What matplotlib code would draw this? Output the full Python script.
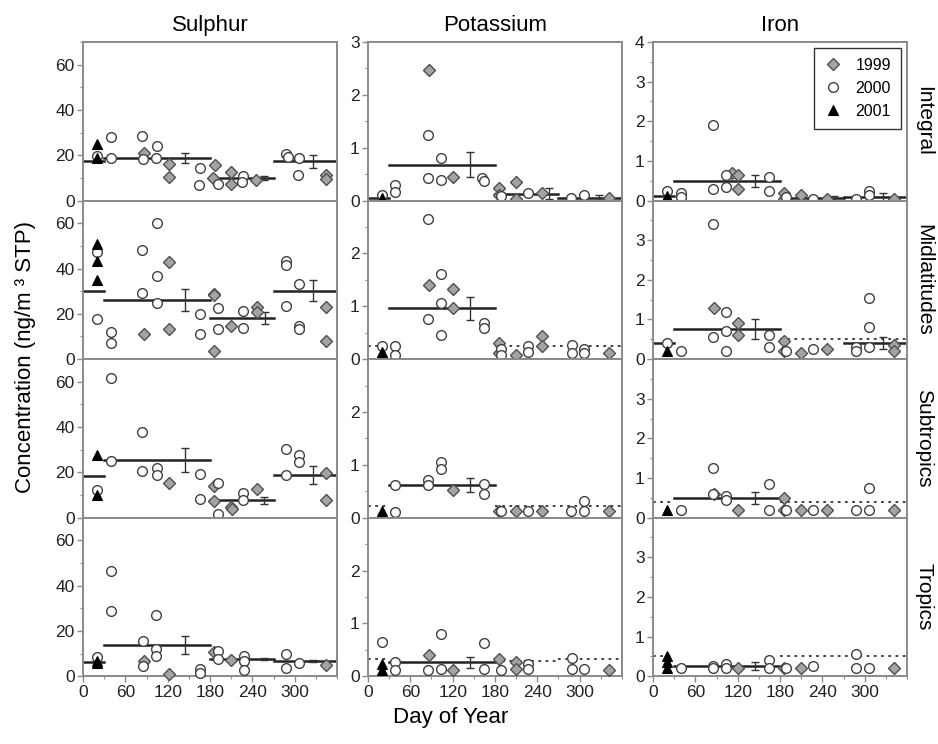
import matplotlib
matplotlib.use("Agg")
import matplotlib.pyplot as plt
import numpy as np
from matplotlib.ticker import MultipleLocator

plt.rcParams['font.family'] = ['Liberation Sans', 'DejaVu Sans']

ELEMENTS = ['Sulphur', 'Potassium', 'Iron']
REGIONS = ['Integral', 'Midlatitudes', 'Subtropics', 'Tropics']
YEARS = ['1999', '2000', '2001']

# (day of year, concentration) per panel and year
S_INT_1999 = [(86, 20.8), (122, 16.2), (122, 10.5), (187, 15.5), (184, 10.0), (210, 12.5), (210, 7.5), (245, 8.9), (345, 11.5), (345, 9.7)]
S_INT_2000 = [(20, 19.5), (39, 28.2), (39, 19.0), (84, 28.5), (85, 18.2), (105, 24.0), (104, 19.0), (166, 14.2), (165, 6.8), (192, 7.4), (227, 10.8), (226, 8.3), (288, 20.4), (290, 19.3), (306, 19.0), (305, 11.5)]
S_INT_2001 = [(20, 25.1), (20, 19.0)]
# (start, end, mean, error, errbar day)
S_INT_MEAN = [(0, 30, 17.4, 0, 0), (30, 180, 19.0, 2.2, 144), (180, 270, 10.0, 1.0, 256), (270, 360, 17.4, 2.8, 326)]
S_INT_DOT = []

S_MID_1999 = [(86, 11.3), (122, 42.9), (122, 13.2), (185, 28.8), (186, 28.1), (185, 3.7), (210, 14.6), (246, 23.0), (246, 20.9), (345, 23.0), (345, 7.8)]
S_MID_2000 = [(20, 47.1), (20, 17.6), (39, 12.0), (39, 7.3), (84, 48.3), (84, 29.3), (105, 60.3), (105, 36.9), (105, 24.6), (166, 19.8), (166, 11.3), (192, 22.7), (192, 13.5), (227, 21.2), (227, 13.9), (288, 43.2), (288, 41.4), (288, 23.4), (306, 33.0), (306, 14.6), (306, 13.2)]
S_MID_2001 = [(20, 51.0), (20, 43.2), (20, 35.1)]
S_MID_MEAN = [(0, 30, 30.3, 0, 0), (30, 180, 26.1, 5.0, 144), (180, 270, 18.3, 2.6, 258), (270, 360, 30.3, 4.7, 326)]
S_MID_DOT = []

S_SUB_1999 = [(122, 15.2), (185, 14.1), (185, 7.2), (210, 4.7), (211, 3.7), (246, 12.7), (345, 19.9), (345, 7.6)]
S_SUB_2000 = [(20, 12.3), (39, 61.6), (39, 25.0), (84, 37.9), (84, 20.4), (105, 22.1), (105, 18.9), (166, 19.3), (166, 8.2), (191, 15.5), (191, 1.8), (227, 11.1), (227, 8.0), (288, 30.2), (288, 18.9), (306, 27.7), (306, 24.7)]
S_SUB_2001 = [(20, 27.7), (20, 9.8)]
S_SUB_MEAN = [(0, 30, 18.6, 0, 0), (30, 180, 25.3, 5.3, 144), (180, 270, 7.6, 1.5, 256), (270, 360, 18.7, 4.0, 326)]
S_SUB_DOT = []

S_TRO_1999 = [(87, 6.6), (122, 1.2), (185, 10.7), (210, 7.3), (345, 5.1)]
S_TRO_2000 = [(20, 8.5), (39, 46.6), (39, 28.6), (85, 15.4), (85, 4.4), (104, 27.1), (104, 12.2), (104, 8.9), (166, 3.4), (166, 1.5), (191, 11.0), (191, 7.8), (228, 8.8), (228, 6.7), (228, 2.9), (288, 10.0), (288, 3.7), (306, 5.9)]
S_TRO_2001 = [(20, 6.7), (20, 5.8)]
S_TRO_MEAN = [(0, 30, 6.3, 0, 0), (30, 180, 13.6, 4.0, 144), (180, 270, 7.5, 0.5, 256), (270, 360, 6.7, 0.3, 326)]
S_TRO_DOT = []

K_INT_1999 = [(86, 2.47), (121, 0.44), (185, 0.23), (185, 0.11), (210, 0.35), (210, 0.03), (246, 0.15), (342, 0.04)]
K_INT_2000 = [(20, 0.10), (39, 0.30), (39, 0.16), (85, 1.24), (85, 0.42), (104, 0.81), (103, 0.38), (162, 0.43), (164, 0.37), (189, 0.08), (227, 0.15), (288, 0.05), (306, 0.11)]
K_INT_2001 = [(20, 0.05), (20, 0.03)]
K_INT_MEAN = [(0, 30, 0.04, 0, 0), (30, 180, 0.68, 0.24, 144), (180, 270, 0.13, 0.10, 256), (270, 360, 0.05, 0.05, 328)]
K_INT_DOT = []

K_MID_1999 = [(86, 1.41), (121, 1.32), (121, 0.97), (185, 0.30), (185, 0.11), (210, 0.08), (246, 0.43), (246, 0.24), (342, 0.11)]
K_MID_2000 = [(20, 0.24), (39, 0.24), (39, 0.08), (85, 2.66), (85, 0.75), (104, 1.62), (104, 1.06), (104, 0.46), (164, 0.69), (164, 0.59), (189, 0.20), (189, 0.08), (227, 0.25), (227, 0.13), (289, 0.27), (289, 0.11), (306, 0.20), (306, 0.11)]
K_MID_2001 = [(20, 0.14), (20, 0.10)]
K_MID_MEAN = [(30, 180, 0.96, 0.22, 144)]
K_MID_DOT = [(0, 30, 0.25), (180, 360, 0.25)]

K_SUB_1999 = [(121, 0.53), (185, 0.13), (210, 0.12), (246, 0.13), (342, 0.12)]
K_SUB_2000 = [(39, 0.62), (39, 0.11), (85, 0.72), (85, 0.61), (104, 1.05), (104, 0.92), (164, 0.64), (164, 0.44), (189, 0.13), (227, 0.12), (288, 0.12), (306, 0.31), (306, 0.12)]
K_SUB_2001 = [(20, 0.13)]
K_SUB_MEAN = [(30, 180, 0.62, 0.13, 144)]
K_SUB_DOT = [(0, 30, 0.23), (180, 360, 0.23)]

K_TRO_1999 = [(86, 0.41), (121, 0.11), (185, 0.33), (210, 0.27), (210, 0.14), (342, 0.11)]
K_TRO_2000 = [(20, 0.65), (39, 0.27), (39, 0.11), (85, 0.11), (104, 0.79), (104, 0.13), (164, 0.63), (164, 0.13), (189, 0.11), (227, 0.24), (227, 0.13), (289, 0.35), (289, 0.13), (306, 0.13)]
K_TRO_2001 = [(20, 0.24), (20, 0.11)]
K_TRO_MEAN = [(30, 180, 0.26, 0.10, 144)]
K_TRO_DOT = [(0, 30, 0.32), (180, 270, 0.28), (270, 360, 0.33)]

FE_INT_1999 = [(112, 0.70), (121, 0.65), (121, 0.30), (185, 0.20), (185, 0.05), (210, 0.15), (246, 0.05), (342, 0.05)]
FE_INT_2000 = [(20, 0.25), (39, 0.20), (39, 0.10), (85, 1.90), (85, 0.30), (104, 0.65), (104, 0.35), (164, 0.60), (164, 0.25), (189, 0.10), (227, 0.05), (288, 0.05), (306, 0.25), (306, 0.15)]
FE_INT_2001 = [(20, 0.12)]
FE_INT_MEAN = [(0, 30, 0.12, 0, 0), (30, 180, 0.50, 0.15, 144), (180, 270, 0.07, 0.05, 256), (270, 360, 0.10, 0.10, 326)]
FE_INT_DOT = []

FE_MID_1999 = [(86, 1.30), (121, 0.90), (121, 0.60), (185, 0.45), (185, 0.20), (210, 0.15), (246, 0.25), (342, 0.35), (342, 0.20)]
FE_MID_2000 = [(20, 0.40), (39, 0.20), (85, 3.40), (85, 0.55), (104, 1.20), (104, 0.70), (104, 0.20), (164, 0.60), (164, 0.30), (189, 0.20), (227, 0.25), (288, 0.30), (288, 0.20), (306, 1.55), (306, 0.80), (306, 0.30)]
FE_MID_2001 = [(20, 0.20)]
FE_MID_MEAN = [(0, 30, 0.40, 0, 0), (30, 180, 0.75, 0.25, 144), (270, 360, 0.40, 0.15, 326)]
FE_MID_DOT = [(180, 360, 0.50)]

FE_SUB_1999 = [(86, 0.60), (121, 0.20), (185, 0.50), (185, 0.20), (210, 0.20), (246, 0.20), (342, 0.20)]
FE_SUB_2000 = [(39, 0.20), (85, 1.25), (85, 0.60), (104, 0.55), (104, 0.45), (164, 0.85), (164, 0.20), (189, 0.20), (227, 0.20), (288, 0.20), (306, 0.75), (306, 0.20)]
FE_SUB_2001 = [(20, 0.20)]
FE_SUB_MEAN = [(30, 180, 0.50, 0.15, 144)]
FE_SUB_DOT = [(0, 30, 0.40), (180, 360, 0.40)]

FE_TRO_1999 = [(121, 0.20), (185, 0.20), (210, 0.20), (342, 0.20)]
FE_TRO_2000 = [(39, 0.20), (85, 0.25), (85, 0.20), (104, 0.30), (104, 0.20), (164, 0.40), (164, 0.20), (189, 0.20), (227, 0.25), (288, 0.55), (288, 0.20), (306, 0.20)]
FE_TRO_2001 = [(20, 0.50), (20, 0.35), (20, 0.20)]
FE_TRO_MEAN = [(30, 180, 0.25, 0.10, 144)]
FE_TRO_DOT = [(0, 30, 0.50), (180, 360, 0.50)]

# y max, major step, minor step
YLIMS = {'Sulphur': (70, 20, 10), 'Potassium': (3, 1, 0.5), 'Iron': (4, 1, 0.5)}

panels = {
    ('Sulphur', 'Integral'): (S_INT_1999, S_INT_2000, S_INT_2001, S_INT_MEAN, S_INT_DOT),
    ('Sulphur', 'Midlatitudes'): (S_MID_1999, S_MID_2000, S_MID_2001, S_MID_MEAN, S_MID_DOT),
    ('Sulphur', 'Subtropics'): (S_SUB_1999, S_SUB_2000, S_SUB_2001, S_SUB_MEAN, S_SUB_DOT),
    ('Sulphur', 'Tropics'): (S_TRO_1999, S_TRO_2000, S_TRO_2001, S_TRO_MEAN, S_TRO_DOT),
    ('Potassium', 'Integral'): (K_INT_1999, K_INT_2000, K_INT_2001, K_INT_MEAN, K_INT_DOT),
    ('Potassium', 'Midlatitudes'): (K_MID_1999, K_MID_2000, K_MID_2001, K_MID_MEAN, K_MID_DOT),
    ('Potassium', 'Subtropics'): (K_SUB_1999, K_SUB_2000, K_SUB_2001, K_SUB_MEAN, K_SUB_DOT),
    ('Potassium', 'Tropics'): (K_TRO_1999, K_TRO_2000, K_TRO_2001, K_TRO_MEAN, K_TRO_DOT),
    ('Iron', 'Integral'): (FE_INT_1999, FE_INT_2000, FE_INT_2001, FE_INT_MEAN, FE_INT_DOT),
    ('Iron', 'Midlatitudes'): (FE_MID_1999, FE_MID_2000, FE_MID_2001, FE_MID_MEAN, FE_MID_DOT),
    ('Iron', 'Subtropics'): (FE_SUB_1999, FE_SUB_2000, FE_SUB_2001, FE_SUB_MEAN, FE_SUB_DOT),
    ('Iron', 'Tropics'): (FE_TRO_1999, FE_TRO_2000, FE_TRO_2001, FE_TRO_MEAN, FE_TRO_DOT),
}

styles = {
    '1999': dict(marker='D', ms=6.2, mfc='#a3a3a3', mec='#505050', mew=1.0),
    '2000': dict(marker='o', ms=7.0, mfc='white', mec='#404040', mew=1.0),
    '2001': dict(marker='^', ms=7.5, mfc='black', mec='black', mew=0.8),
}

fig = plt.figure(figsize=(9.38, 7.44), dpi=100)
spine_c = '#8a8a8a'
lefts = [0.0885, 0.3923, 0.6962]
w = 0.2708
h = 0.2131
bottoms = [0.7304, 0.5173, 0.3042, 0.0911]

for ci, el in enumerate(ELEMENTS):
    ymax, major, minor = YLIMS[el]
    for ri, reg in enumerate(REGIONS):
        ax = fig.add_axes([lefts[ci], bottoms[ri], w, h])
        d99, d00, d01, means, dots = panels[(el, reg)]

        for start, end, m, err, ex in means:
            ax.plot([start, end], [m, m], color='#222222', lw=1.8, zorder=2)
            if err > 0:
                ax.errorbar([ex], [m], yerr=[err], color='#333333', lw=1.0, capsize=3, capthick=1.0, zorder=2)
        for start, end, m in dots:
            ax.plot([start, end], [m, m], color='#333333', lw=1.3, ls=(0, (1.5, 2.5)), zorder=2)

        for yr, pts in zip(YEARS, [d99, d00, d01]):
            xs = [p[0] for p in pts]
            ys = [p[1] for p in pts]
            ax.plot(xs, ys, ls='none', label=yr, zorder=3, clip_on=False, **styles[yr])

        # row 0 keeps its top label, lower rows drop it (it sits on the panel above)
        ticks = np.arange(0, ymax + 1e-9, major)
        if ri > 0:
            ticks = ticks[ticks < ymax - 1e-9]
        ax.set_yticks(ticks)
        ax.set_yticklabels(['%g' % t for t in ticks])
        ax.yaxis.set_minor_locator(MultipleLocator(minor))
        ax.set_xticks([0, 60, 120, 180, 240, 300])
        ax.xaxis.set_minor_locator(MultipleLocator(30))
        ax.set_xlim(0, 360)
        ax.set_ylim(0, ymax)

        ax.tick_params(which='major', direction='out', length=4, width=1.0, color=spine_c, labelsize=12.5, labelcolor='#222222', pad=2)
        ax.tick_params(which='minor', direction='out', length=2.5, width=0.8, color=spine_c)
        for s in ax.spines.values():
            s.set_color(spine_c)
            s.set_linewidth(1.4)

        if ri != 3:
            ax.tick_params(axis='x', labelbottom=False)

        if ri == 0:
            ax.set_title(el, fontsize=16, pad=8)
        if ci == 2:
            fig.text(0.985, bottoms[ri] + h / 2, reg, rotation=270, fontsize=15,
                     ha='center', va='center')
        if ci == 2 and ri == 0:
            leg = ax.legend(loc='upper right', fontsize=11.5, frameon=True, fancybox=False,
                            handletextpad=0.8, borderpad=0.6, labelspacing=0.5, handlelength=1.2,
                            borderaxespad=0.4)
            leg.get_frame().set_edgecolor('black')
            leg.get_frame().set_linewidth(1.0)

fig.text(0.027, 0.52, 'Concentration (ng/m ³ STP)', rotation=90, fontsize=16, ha='center', va='center')
fig.text(0.48, 0.035, 'Day of Year', fontsize=16, ha='center', va='center')

fig.savefig('out.png', dpi=100)
